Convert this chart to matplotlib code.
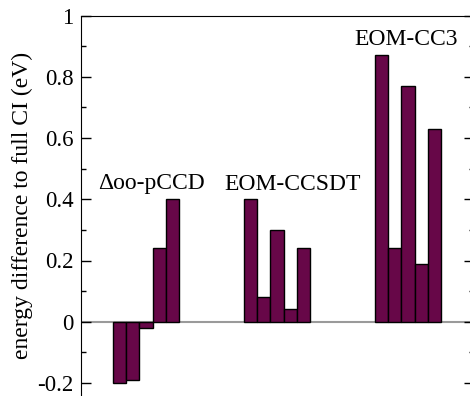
import numpy as np
import matplotlib.pyplot as plt
from matplotlib.ticker import MultipleLocator

plt.rcParams['font.family'] = 'Liberation Serif'
plt.rcParams['axes.unicode_minus'] = False

# Datos (eV)
metodos = ["\u0394oo-pCCD", "EOM-CCSDT", "EOM-CC3"]
oopccd = [-0.20, -0.19, -0.02, 0.24, 0.40]
ccsdt = [0.40, 0.08, 0.30, 0.04, 0.24]
cc3 = [0.87, 0.24, 0.77, 0.19, 0.63]
x1 = np.arange(0, 5)
x2 = np.arange(10, 15)
x3 = np.arange(20, 25)

color = '#670748'

fig = plt.figure(figsize=(4.70, 3.96), dpi=100)
ax = fig.add_axes([80.5/470, -48.1/396, 393/470, 428.4/396])

ax.axhline(0, color='#9a9a9a', lw=1.5, zorder=1)
for xs, ys in [(x1, oopccd), (x2, ccsdt), (x3, cc3)]:
    ax.bar(xs, ys, width=1.0, color=color, edgecolor='black', lw=1.0, zorder=2)

# etiquetas de grupos
ax.text(2.45, 0.434, metodos[0], ha='center', va='baseline', fontsize=17)
ax.text(13.22, 0.431, metodos[1], ha='center', va='baseline', fontsize=17)
ax.text(21.84, 0.904, metodos[2], ha='center', va='baseline', fontsize=17)

ax.set_xlim(-3, 27)
ax.set_ylim(-0.4, 1.0)
ax.yaxis.set_major_locator(MultipleLocator(0.2))
ax.yaxis.set_minor_locator(MultipleLocator(0.1))
ax.set_yticks([-0.2, 0, 0.2, 0.4, 0.6, 0.8, 1.0])
ax.set_yticklabels(['-0.2', '0', '0.2', '0.4', '0.6', '0.8', '1'])
ax.tick_params(axis='y', which='major', direction='in', length=7, width=1,
               left=True, right=True, labelsize=16.5, pad=5)
ax.tick_params(axis='y', which='minor', direction='in', length=3.5, width=1,
               left=True, right=True)
ax.set_xticks([])

ax.set_ylabel("energy difference to full CI (eV)", fontsize=17)
ax.yaxis.set_label_coords(-0.121, 0.556)

plt.savefig("out.png", dpi=100)
